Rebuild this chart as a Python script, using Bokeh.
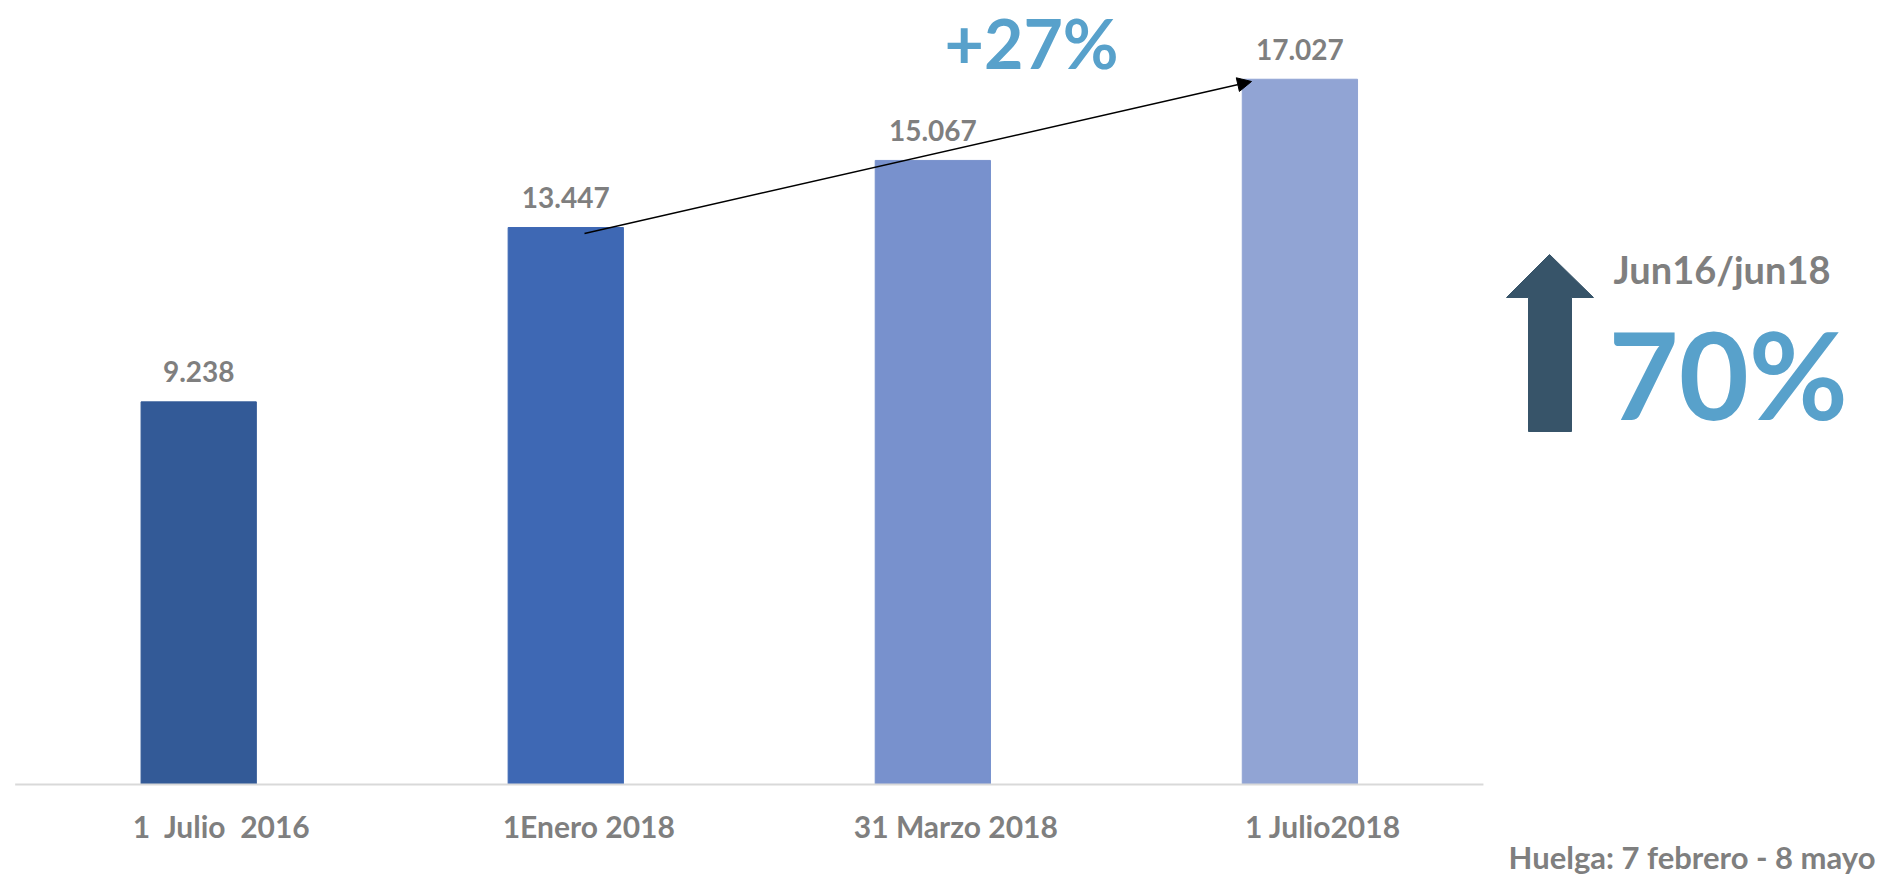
from bokeh.plotting import figure
from bokeh.models import ColumnDataSource, Arrow, NormalHead, Range1d
from bokeh.core.properties import value
from bokeh.embed import file_html
from bokeh.resources import INLINE

# ---- data ----
NB = "\u00a0"
categories = [f"1{NB} Julio{NB} 2016", "1Enero 2018", "31 Marzo 2018", "1 Julio2018"]
values = [9238, 13447, 15067, 17027]
value_labels = ["9.238", "13.447", "15.067", "17.027"]
bar_colors = ["#335a97", "#3e68b4", "#7891cd", "#91a4d4"]
growth_label = "+27%"
period_label = "Jun16/jun18"
period_growth = "70%"
note = "Huelga: 7 febrero - 8 mayo"

FONT = "Lato"
GRAY = "#7f7f7f"
BLUE = "#58a1cb"

xs = list(range(len(categories)))

# layout constants (page pixels -> data)
X0, DX = 198.2, 367.07     # page x of first category centre, px per category
Y0, KY = 784.0, 0.04142    # page y of baseline, px per unit
W, H = 1883, 876
def dx(px):
    return (px - X0) / DX
def dy(py):
    return (Y0 - py) / KY

p = figure(width=W, height=H, output_backend="svg", toolbar_location=None,
           x_range=Range1d(dx(0), dx(W)), y_range=Range1d(dy(H), dy(0)),
           min_border=0)
p.outline_line_color = None
p.background_fill_color = "white"
p.border_fill_color = "white"
p.grid.visible = False
p.axis.visible = False

src = ColumnDataSource(dict(x=xs, top=values, color=bar_colors, lab=value_labels,
                            cat=categories, zero=[0] * len(xs)))
p.vbar(x="x", top="top", width=0.314, color="color", source=src)
p.text(x="x", y="top", text="lab", source=src, text_align="center",
       text_baseline="middle", y_offset=-30, text_color=GRAY,
       text_font=value(FONT), text_font_style="bold", text_font_size="28px")

# category axis: baseline and labels
p.segment(x0=[xs[0] - 0.5], y0=[0], x1=[xs[-1] + 0.5], y1=[0],
          line_color="#d9d9d9", line_width=2)
p.text(x="x", y="zero", text="cat", source=src, text_align="center",
       text_baseline="middle", x_offset=23, y_offset=41, text_color=GRAY,
       text_font=value(FONT), text_font_style="bold", text_font_size="30px")

# growth arrow between bars
p.add_layout(Arrow(end=NormalHead(size=14, fill_color="black", line_color="black"),
                   x_start=dx(584), y_start=dy(233), x_end=dx(1251), y_end=dy(81),
                   line_color="black", line_width=1.5))

def note_text(px, py, txt, color, size, align="left"):
    p.text(x=[dx(px)], y=[dy(py)], text=[txt], text_color=color,
           text_font=value(FONT), text_font_style="bold",
           text_font_size=f"{size}px", text_baseline="middle", text_align=align)

note_text(944, 42, growth_label, BLUE, 68)

# big up arrow on the right
arrow_px = [(1549, 254), (1593, 297), (1571, 297), (1571, 431), (1528, 431),
            (1528, 297), (1506, 297)]
p.patch([dx(a) for a, b in arrow_px], [dy(b) for a, b in arrow_px],
        color="#375469", line_color="#375469")

note_text(1613, 268, period_label, GRAY, 38)
note_text(1608, 373, period_growth, BLUE, 121)
note_text(1875, 856, note, GRAY, 31, align="right")

open("out.html", "w").write(file_html(p, INLINE))
